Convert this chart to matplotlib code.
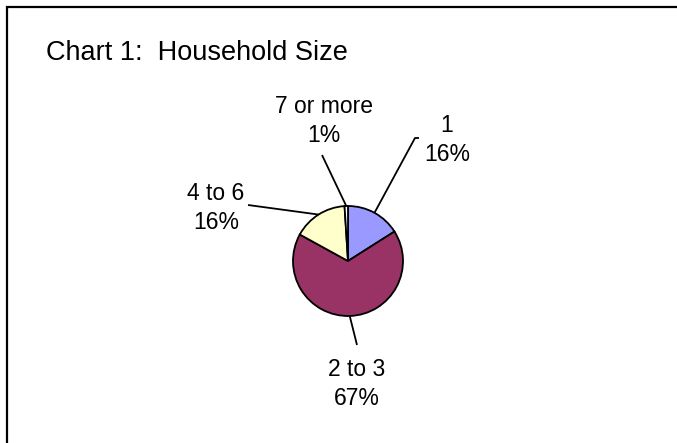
import matplotlib
matplotlib.use('Agg')
import matplotlib.pyplot as plt
from matplotlib.patches import Rectangle
import numpy as np

# data
categories = ['1', '2 to 3', '4 to 6', '7 or more']
shares = [16, 67, 16, 1]
colors = ['#9999FF', '#993366', '#FFFFCC', '#FFFFFF']
title = 'Chart 1:  Household Size'

W, H = 677, 443
fig = plt.figure(figsize=(W / 100, H / 100), dpi=100)
ax = fig.add_axes([0, 0, 1, 1])

# outer frame (only top and left edges visible in the original)
fig.patches.append(Rectangle((7 / W, -0.1), 1.2, (H - 7) / H + 0.1, transform=fig.transFigure,
                             fill=False, edgecolor='black', linewidth=1.6))

fig.text(46 / W, 1 - 60 / H, title, ha='left', va='baseline', fontsize=19.5,
         family='Liberation Sans')

cx, cy, r = 348, H - 261, 55
wedges, _ = ax.pie(shares, colors=colors, startangle=90, counterclock=False,
                   center=(cx, cy), radius=r, frame=True,
                   wedgeprops={'edgecolor': 'black', 'linewidth': 1.3})
ax.set_xlim(0, W)
ax.set_ylim(0, H)
ax.axis('off')

# label text centres and leader end points (pixels from top-left)
label_pos = {'1': (447, 140), '2 to 3': (357, 384), '4 to 6': (216, 208), '7 or more': (324, 121)}
leader_end = {'1': [(415, 138), (419, 138)], '2 to 3': [(357, 345)],
              '4 to 6': [(248, 205)], '7 or more': [(322, 155)]}

for w, cat, val in zip(wedges, categories, shares):
    mid = np.deg2rad((w.theta1 + w.theta2) / 2)
    px, py = cx + r * np.cos(mid), cy + r * np.sin(mid)
    xs = [px] + [p[0] for p in leader_end[cat]]
    ys = [py] + [H - p[1] for p in leader_end[cat]]
    ax.plot(xs, ys, color='black', linewidth=1.3, solid_capstyle='butt')
    lx, ly = label_pos[cat]
    ax.text(lx, H - ly, f'{cat}\n{val}%', ha='center', va='center', fontsize=16.5,
            family='Liberation Sans', linespacing=1.35)

fig.savefig('out.png', dpi=100, facecolor='white')
